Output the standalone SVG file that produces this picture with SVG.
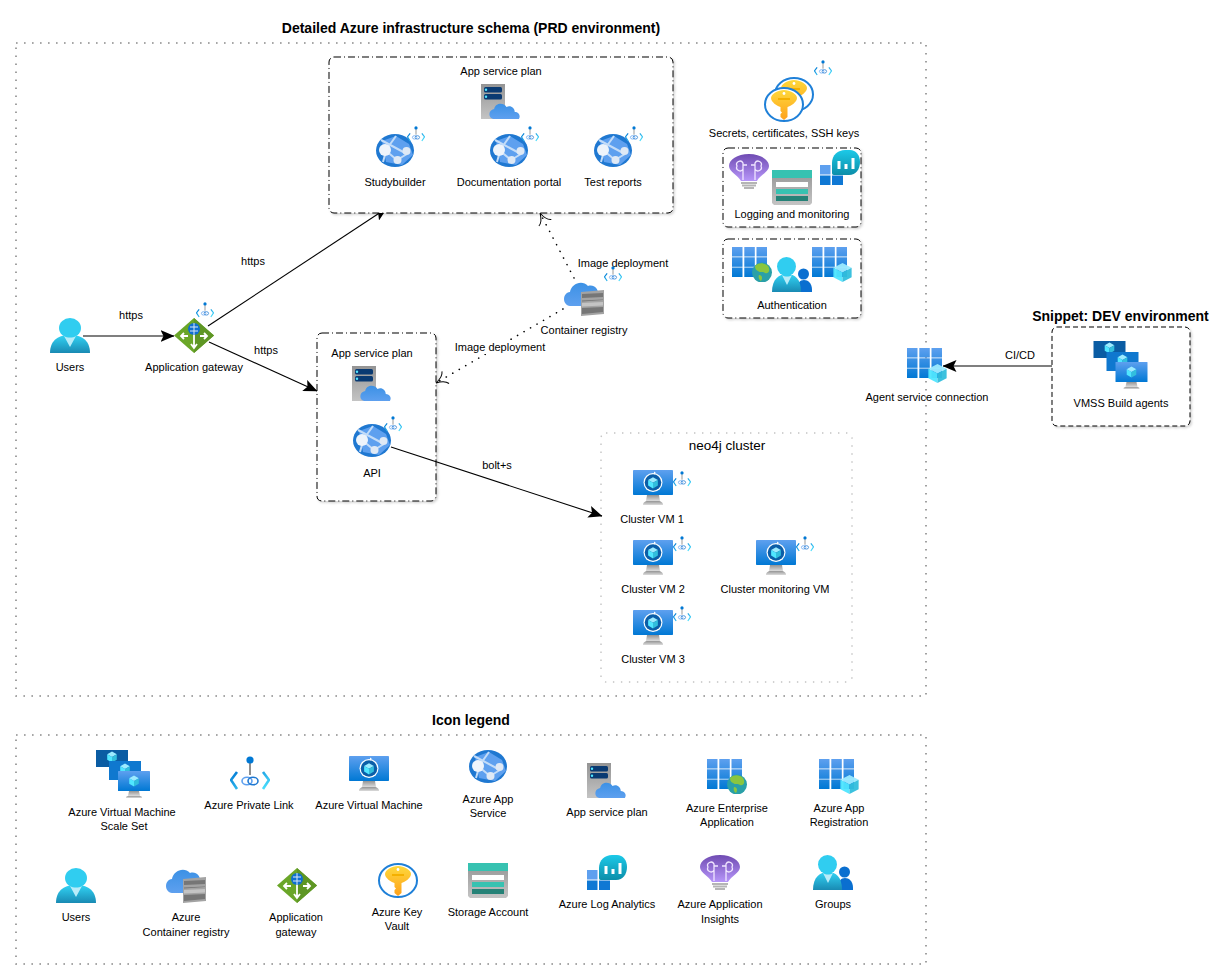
<svg xmlns="http://www.w3.org/2000/svg" xmlns:xlink="http://www.w3.org/1999/xlink" width="1232" height="979" viewBox="0 0 1232 979">
<style>
text{font-family:"Liberation Sans",Arial,sans-serif;font-size:11px;fill:#000;text-anchor:middle}
.h{font-weight:bold;font-size:14px}
.big{font-size:13.5px}
.dot{fill:none;stroke:#8a8a8a;stroke-width:1.6;stroke-dasharray:1.6 6.4}
.lite{fill:#fff;stroke:#c4c4c4;stroke-width:1.4;stroke-dasharray:1.4 6.6}
.dd{fill:#fff;stroke:#000;stroke-width:1;stroke-dasharray:7 3 1 3;filter:url(#sh)}
.das{fill:#fff;stroke:#000;stroke-width:1;stroke-dasharray:5 3;filter:url(#sh)}
.c{fill:none;stroke:#000;stroke-width:1.1}
.s{fill:none;stroke:#000;stroke-width:1.6;stroke-linecap:round;stroke-dasharray:.1 7.4}
.bg{fill:#fff}
</style>
<defs>
<filter id="sh" x="-5%" y="-5%" width="110%" height="110%"><feDropShadow dx="1.5" dy="1.5" stdDeviation="1.2" flood-color="#000" flood-opacity=".18"/></filter>
<marker id="tri" markerUnits="userSpaceOnUse" viewBox="0 0 14 12" refX="13.5" refY="6" markerWidth="14" markerHeight="12" orient="auto"><path d="M0,0L14,6L0,12L3,6Z" fill="#000"/></marker>
<marker id="open" markerUnits="userSpaceOnUse" viewBox="0 0 14 14" refX="13" refY="7" markerWidth="14" markerHeight="14" orient="auto" overflow="visible"><path d="M2,0Q4,5 13,7Q4,9 2,14" fill="none" stroke="#000" stroke-width="1"/></marker>
<linearGradient id="blue" x1="0" y1="0" x2="0" y2="1"><stop offset="0" stop-color="#5ea0ef"/><stop offset="1" stop-color="#0078d4"/></linearGradient>
<linearGradient id="cloud" x1="0" y1="0" x2="0" y2="1"><stop offset="0" stop-color="#3c91e5"/><stop offset="1" stop-color="#5ea0ef"/></linearGradient>
<linearGradient id="grayg" x1="0" y1="0" x2="0" y2="1"><stop offset="0" stop-color="#949494"/><stop offset="1" stop-color="#c4c4c4"/></linearGradient>
<linearGradient id="stand" x1="0" y1="0" x2="0" y2="1"><stop offset="0" stop-color="#949494"/><stop offset="1" stop-color="#dcdcdc"/></linearGradient>
<linearGradient id="user" x1="0" y1="0" x2="0" y2="1"><stop offset="0" stop-color="#32d4f5"/><stop offset="1" stop-color="#198ab3"/></linearGradient>
<linearGradient id="keyg" x1="0" y1="0" x2="0" y2="1"><stop offset="0" stop-color="#fed83b"/><stop offset="1" stop-color="#fea11b"/></linearGradient>
<linearGradient id="purple" x1="0" y1="0" x2="0" y2="1"><stop offset="0" stop-color="#6f4bb2"/><stop offset="1" stop-color="#b796f9"/></linearGradient>
<linearGradient id="la" x1="0" y1="0" x2="0" y2="1"><stop offset="0" stop-color="#1cc9e8"/><stop offset="1" stop-color="#0c8ea9"/></linearGradient>
<linearGradient id="tile" gradientUnits="userSpaceOnUse" x1="0" y1="0" x2="0" y2="30"><stop offset="0" stop-color="#5ea0ef"/><stop offset="1" stop-color="#0078d4"/></linearGradient>
<linearGradient id="chev" x1="0" y1="0" x2="1" y2="1"><stop offset="0" stop-color="#0078d4"/><stop offset="1" stop-color="#50e6ff"/></linearGradient>
<g id="cube"><path d="M0,-1L.87,-.5L0,0L-.87,-.5Z" fill="#9cebff"/><path d="M-.87,-.5L0,0L0,1L-.87,.5Z" fill="#50e6ff"/><path d="M.87,-.5L0,0L0,1L.87,.5Z" fill="#32bedd"/></g>
<path id="cloudp" d="M4,21C-1,20 -1,12 5,11C6,5 14,4 17,9C21,7 25,10 25,14C29,14 31,18 29,21Z"/>
<g id="grid"><g fill="url(#tile)"><rect x="0" y="0" width="10.5" height="9.5"/><rect x="12.3" y="0" width="10.5" height="9.5"/><rect x="24.5" y="0" width="10.5" height="9.5"/><rect x="0" y="10.3" width="10.5" height="9.5"/><rect x="12.3" y="10.3" width="10.5" height="9.5"/><rect x="24.5" y="10.3" width="10.5" height="9.5"/><rect x="0" y="20.5" width="10.5" height="9.5"/><rect x="12.3" y="20.5" width="10.5" height="9.5"/><rect x="24.5" y="20.5" width="10.5" height="9.5"/></g></g>
<symbol id="i-plan" viewBox="0 0 40 35"><rect width="24" height="35" fill="url(#grayg)"/><rect x="3" y="3" width="18" height="5.5" rx="1.5" fill="#0a3a72"/><rect x="3" y="10" width="18" height="5.5" rx="1.5" fill="#0a3a72"/><circle cx="5" cy="5.7" r="1.2" fill="#50e6ff"/><circle cx="5" cy="12.7" r="1.2" fill="#50e6ff"/><use xlink:href="#cloudp" href="#cloudp" transform="translate(8,14) scale(1.03,1)" fill="url(#cloud)"/></symbol>
<symbol id="i-app" viewBox="0 0 40 35"><ellipse cx="19" cy="16.5" rx="19" ry="16.5" fill="#1f78d1"/><path d="M6,7L20,2L33,10L37,21L26,31L10,28Z" fill="#5ea0ef"/><path d="M5,6L31,20M9,16L21,26M21,26L31,20M20,2L10,16M7,28L10,17" stroke="#c3dcf8" stroke-width="2" fill="none"/><circle cx="9" cy="16" r="6" fill="#eef4fb"/><circle cx="30.5" cy="17" r="4" fill="#dfe9f5"/><circle cx="21.5" cy="26" r="4" fill="#dfe9f5"/></symbol>
<symbol id="i-pl" viewBox="0 0 40 35"><rect x="19" y="4" width="2" height="15" fill="#8f8f8f"/><circle cx="20" cy="4" r="3.6" fill="#0078d4"/><path d="M7,16L1,24L7,33M33,16L39,24L33,33" fill="none" stroke="url(#chev)" stroke-width="2.6"/><ellipse cx="17" cy="25" rx="5" ry="3.8" fill="none" stroke="#5ea0ef" stroke-width="1.6"/><ellipse cx="23" cy="25" rx="5" ry="3.8" fill="none" stroke="#1f78d1" stroke-width="1.6"/></symbol>
<symbol id="i-vm" viewBox="0 0 40 35"><rect width="40" height="25" rx=".8" fill="url(#blue)"/><path d="M14,25H26L27,31H13Z" fill="url(#stand)"/><path d="M10,35C10,32 13,31 14,31H26C27,31 30,32 30,35Z" fill="url(#stand)"/><circle cx="20" cy="12.5" r="9.5" fill="#fff"/><circle cx="20" cy="12.5" r="8.3" fill="#0b5ea8"/><use xlink:href="#cube" href="#cube" transform="translate(20,12.8) scale(5.6)"/><path d="M21,1.5L23,3L21,4.5Z" fill="#fff"/></symbol>
<symbol id="i-vmss" viewBox="0 0 54 48"><rect width="32" height="17" fill="#0a5ca3"/><use xlink:href="#cube" href="#cube" transform="translate(16,7) scale(5.5)"/><rect x="13" y="11" width="32" height="19" fill="#0f78cf"/><use xlink:href="#cube" href="#cube" transform="translate(29,19) scale(5.5)"/><rect x="22" y="21" width="32" height="20" rx=".6" fill="url(#blue)"/><use xlink:href="#cube" href="#cube" transform="translate(38,31) scale(5.5)"/><path d="M33,41H43L44,46H32Z" fill="url(#stand)"/><path d="M30,48C30,46 32,46 33,46H43C44,46 46,46 46,48Z" fill="url(#stand)"/></symbol>
<symbol id="i-user" viewBox="0 0 40 35"><path d="M0,35C0,21 10,17 20,17S40,21 40,35C40,35 0,35 0,35Z" fill="url(#user)"/><ellipse cx="20" cy="10" rx="11" ry="10" fill="#30cdf0"/><path d="M14,18L20,29L26,18C23,20 17,20 14,18Z" fill="#b8ecf9"/></symbol>
<symbol id="i-group" viewBox="0 0 40 35"><path d="M25,35V33C25,26 28,23 32,23S40,26 40,33V35Z" fill="#0a6fd0"/><circle cx="31.5" cy="17" r="5.5" fill="#0a6fd0"/><path d="M0,35C0,22 7,17 15,17S29,22 29,35Z" fill="url(#user)"/><ellipse cx="14.5" cy="9.5" rx="9.5" ry="9.5" fill="#30cdf0"/><path d="M10,18L15,28L20,18C17,20 13,20 10,18Z" fill="#b8ecf9"/></symbol>
<symbol id="i-acr" viewBox="0 0 40 35"><path d="M6,25C-2,24 -2,12 6,11C7,3 18,-2 24,5C31,3 35,9 34,14C38,16 38,25 33,25Z" fill="url(#cloud)"/><path d="M17,11L40,9V33L17,35Z" fill="#a3a3a3"/><path d="M18,13L39,12V16L18,17ZM18,19.5L39,18.5V19L18,20.5ZM18,27L39,26V31L18,33Z" fill="#767676"/><path d="M18,22L39,21V24.5L18,25.5Z" fill="#c4c4c4"/></symbol>
<symbol id="i-gw" viewBox="0 0 40 35"><path d="M20,0L40,17.5L20,35L0,17.5Z" fill="#6aa628"/><path d="M20,0L40,17.5L20,35Z" fill="#5e9624"/><circle cx="20" cy="11" r="6" fill="#0f6fd0"/><path d="M16,9H24M16,13H24M20,5V17" stroke="#d8e8f8" stroke-width="1"/><path d="M20,17V30M7,18H14M33,18H26M17,26L20,30L23,26M10,15L7,18L10,21M30,15L33,18L30,21" stroke="#fff" stroke-width="1.8" fill="none"/></symbol>
<symbol id="i-key" viewBox="0 0 40 35"><ellipse cx="20" cy="17.5" rx="19" ry="16.5" fill="#fff" stroke="#1f80d8" stroke-width="2"/><path d="M20,3C26,3 33,7 33,11C33,15 27,19 23.5,20V30L20,33L16.5,30V27L18,25.5L16.5,24V20C13,19 7,15 7,11C7,7 14,3 20,3Z" fill="url(#keyg)"/><circle cx="20" cy="6.5" r="1.4" fill="#fff"/><rect x="14" y="11" width="12" height="2" fill="#f4b000"/></symbol>
<symbol id="i-sto" viewBox="0 0 40 35"><path d="M0,0H40V33L38,35H2L0,33Z" fill="url(#grayg)"/><rect width="40" height="8" fill="#37c2b1"/><rect x="4" y="12" width="32" height="5" fill="#fff"/><rect x="4" y="19" width="32" height="5" fill="#37c2b1"/><rect x="4" y="26" width="32" height="5" fill="#258277"/></symbol>
<symbol id="i-la" viewBox="0 0 40 35"><rect x="0" y="15" width="10.5" height="9.5" fill="#5ea0ef"/><rect x="0" y="25.5" width="10.5" height="9.5" fill="#0f78d4"/><rect x="12" y="25.5" width="11" height="9.5" fill="#0f78d4"/><path d="M12,13C12,5 18,0 25,0H30C36,0 40,5 40,12C40,19 36,25 29,25H14C12,25 12,24 12,22Z" fill="url(#la)"/><rect x="17.5" y="11" width="3" height="8" fill="#fff"/><rect x="24.5" y="14" width="3" height="5" fill="#fff"/><rect x="31.5" y="8" width="3" height="11" fill="#fff"/></symbol>
<symbol id="i-ai" viewBox="0 0 40 35"><path d="M20,0C32,0 40,6 40,12C40,18 31,21 28,27H12C9,21 0,18 0,12C0,6 8,0 20,0Z" fill="url(#purple)"/><path d="M12,29H28M13,31.5H27M15,34H25" stroke="#b5b5b5" stroke-width="1.8"/><path d="M14,26V15M26,26V15M8,12A3,3 0 0 1 14,9V15A3,3 0 0 1 8,12ZM32,12A3,3 0 0 0 26,9V15A3,3 0 0 0 32,12ZM14,11H18M26,11H22" fill="none" stroke="#f0e6ff" stroke-width="1.3"/></symbol>
<symbol id="i-reg" viewBox="0 0 40 35"><use xlink:href="#grid" href="#grid"/><use xlink:href="#cube" href="#cube" transform="translate(30.5,25.5) scale(10.5,9.5)" opacity=".95"/></symbol>
<symbol id="i-ent" viewBox="0 0 40 35"><use xlink:href="#grid" href="#grid"/><circle cx="30" cy="25.5" r="10" fill="#2aa0a8"/><path d="M23,19C27,15 33,16 36,19C39,24 36,27 33,26C31,24 28,26 26,24C24,23 23,22 23,19ZM27,28C30,28 31,31 29,34C27,33 26,30 27,28Z" fill="#8ac63f"/></symbol>
</defs>

<g id="container-prd"><rect class="dot" x="16" y="43" width="910" height="653" fill="none"/><text class="h" x="471" y="33">Detailed Azure infrastructure schema (PRD environment)</text></g>
<g id="container-legend"><rect class="dot" x="16" y="735" width="910" height="229"/><text class="h" x="471" y="725">Icon legend</text></g>
<g id="neo4j-cluster"><rect class="lite" x="601" y="433" width="251" height="249" rx="5"/><text class="big" x="727" y="450">neo4j cluster</text></g>
<g id="api-plan-box"><rect class="dd" x="317" y="333" width="119" height="168" rx="5"/></g>

<g id="connectors">
<line class="c" x1="83" y1="336" x2="174" y2="336" marker-end="url(#tri)"/>
<text x="131" y="319">https</text>
<line class="c" x1="208" y1="326" x2="387" y2="208" marker-end="url(#tri)"/>
<text x="253" y="265">https</text>
<line class="c" x1="209" y1="342" x2="317" y2="391" marker-end="url(#tri)"/>
<text x="266" y="354">https</text>
<line class="c" x1="391" y1="447" x2="602" y2="516" marker-end="url(#tri)"/>
<text x="497" y="469">bolt+s</text>
<line class="c" x1="1102" y1="366" x2="943" y2="366" marker-end="url(#tri)"/>
<text x="1020" y="359">CI/CD</text>
<line class="s" x1="574" y1="278" x2="540" y2="213" marker-end="url(#open)"/>
<line class="s" x1="563" y1="309" x2="436" y2="383" marker-end="url(#open)"/>
<rect class="bg" x="451" y="340" width="98" height="14"/>
<text x="500" y="351">Image deployment</text>
<text x="623" y="267">Image deployment</text>
</g>

<g id="app-plan-box"><rect class="dd" x="329" y="57" width="344" height="156" rx="5"/><text x="501" y="75">App service plan</text><use href="#i-plan" x="481" y="84" width="40" height="35"/></g>
<g id="studybuilder"><use href="#i-app" x="376" y="134" width="40" height="35"/><use href="#i-pl" x="407" y="125" width="18" height="18"/><text x="395" y="186">Studybuilder</text></g>
<g id="documentation-portal"><use href="#i-app" x="490" y="134" width="40" height="35"/><use href="#i-pl" x="521" y="125" width="18" height="18"/><text x="509" y="186">Documentation portal</text></g>
<g id="test-reports"><use href="#i-app" x="594" y="134" width="40" height="35"/><use href="#i-pl" x="625" y="125" width="18" height="18"/><text x="613" y="186">Test reports</text></g>

<g id="secrets"><use href="#i-key" x="774" y="77" width="40" height="35"/><use href="#i-key" x="764" y="87" width="40" height="35"/><use href="#i-pl" x="814" y="59" width="18" height="18"/><text x="784" y="137">Secrets, certificates, SSH keys</text></g>
<g id="logging"><rect class="dd" x="723" y="148" width="138" height="79" rx="5"/><use href="#i-ai" x="729" y="154" width="40" height="35"/><use href="#i-sto" x="772" y="170" width="40" height="35"/><use href="#i-la" x="820" y="150" width="40" height="35"/><text x="792" y="218">Logging and monitoring</text></g>
<g id="authentication"><rect class="dd" x="723" y="239" width="138" height="79" rx="5"/><use href="#i-ent" x="732" y="247" width="40" height="35"/><use href="#i-reg" x="812" y="247" width="40" height="35"/><use href="#i-group" x="772" y="257" width="40" height="35"/><text x="792" y="309">Authentication</text></g>

<g id="users"><use href="#i-user" x="50" y="318" width="40" height="35"/><text x="70" y="371">Users</text></g>
<g id="application-gateway"><use href="#i-gw" x="174" y="318" width="40" height="35"/><use href="#i-pl" x="196" y="301" width="18" height="18"/><text x="194" y="371">Application gateway</text></g>
<g id="container-registry"><use href="#i-acr" x="564" y="281" width="40" height="35"/><use href="#i-pl" x="604" y="265" width="18" height="18"/><text x="584" y="334">Container registry</text></g>
<g id="api"><text x="372" y="357">App service plan</text><use href="#i-plan" x="352" y="366" width="40" height="35"/><use href="#i-app" x="353" y="424" width="40" height="35"/><use href="#i-pl" x="384" y="415" width="18" height="18"/><text x="372" y="477">API</text></g>

<g id="cluster-vm-1"><use href="#i-vm" x="633" y="470" width="40" height="35"/><use href="#i-pl" x="673" y="470" width="18" height="18"/><text x="652" y="523">Cluster VM 1</text></g>
<g id="cluster-vm-2"><use href="#i-vm" x="633" y="540" width="40" height="35"/><use href="#i-pl" x="673" y="535" width="18" height="18"/><text x="653" y="593">Cluster VM 2</text></g>
<g id="cluster-vm-3"><use href="#i-vm" x="633" y="610" width="40" height="35"/><use href="#i-pl" x="673" y="605" width="18" height="18"/><text x="653" y="663">Cluster VM 3</text></g>
<g id="cluster-monitoring-vm"><use href="#i-vm" x="756" y="540" width="40" height="35"/><use href="#i-pl" x="796" y="535" width="18" height="18"/><text x="775" y="593">Cluster monitoring VM</text></g>

<g id="agent-service-connection"><use href="#i-reg" x="907" y="348" width="40" height="35"/><text x="927" y="401">Agent service connection</text></g>
<g id="dev-box"><rect class="das" x="1052" y="327" width="138" height="99" rx="5"/><text class="h" x="1120.5" y="321">Snippet: DEV environment</text></g>
<g id="vmss-build-agents"><use href="#i-vmss" x="1093" y="341" width="55" height="48"/><text x="1121" y="407">VMSS Build agents</text></g>

<g id="legend-vmss"><use href="#i-vmss" x="96" y="750" width="54" height="48"/><text x="122" y="816">Azure Virtual Machine</text><text x="124" y="830">Scale Set</text></g>
<g id="legend-private-link"><use href="#i-pl" x="230" y="756" width="40" height="35"/><text x="249" y="809">Azure Private Link</text></g>
<g id="legend-vm"><use href="#i-vm" x="349" y="756" width="40" height="35"/><text x="369" y="809">Azure Virtual Machine</text></g>
<g id="legend-app-service"><use href="#i-app" x="469" y="750" width="40" height="35"/><text x="488" y="803">Azure App</text><text x="488" y="817">Service</text></g>
<g id="legend-plan"><use href="#i-plan" x="587" y="763" width="40" height="35"/><text x="607" y="816">App service plan</text></g>
<g id="legend-enterprise"><use href="#i-ent" x="707" y="759" width="40" height="35"/><text x="727" y="812">Azure Enterprise</text><text x="727" y="826">Application</text></g>
<g id="legend-registration"><use href="#i-reg" x="819" y="759" width="40" height="35"/><text x="839" y="812">Azure App</text><text x="839" y="826">Registration</text></g>
<g id="legend-users"><use href="#i-user" x="56" y="868" width="40" height="35"/><text x="76" y="921">Users</text></g>
<g id="legend-acr"><use href="#i-acr" x="166" y="868" width="40" height="35"/><text x="186" y="921">Azure</text><text x="186" y="936">Container registry</text></g>
<g id="legend-gateway"><use href="#i-gw" x="277" y="868" width="40" height="35"/><text x="296" y="921">Application</text><text x="296" y="936">gateway</text></g>
<g id="legend-key-vault"><use href="#i-key" x="378" y="863" width="40" height="35"/><text x="397" y="916">Azure Key</text><text x="397" y="930">Vault</text></g>
<g id="legend-storage"><use href="#i-sto" x="468" y="863" width="40" height="35"/><text x="488" y="916">Storage Account</text></g>
<g id="legend-log-analytics"><use href="#i-la" x="587" y="855" width="40" height="35"/><text x="607" y="908">Azure Log Analytics</text></g>
<g id="legend-app-insights"><use href="#i-ai" x="700" y="855" width="40" height="35"/><text x="720" y="908">Azure Application</text><text x="720" y="923">Insights</text></g>
<g id="legend-groups"><use href="#i-group" x="813" y="855" width="40" height="35"/><text x="833" y="908">Groups</text></g>
</svg>
